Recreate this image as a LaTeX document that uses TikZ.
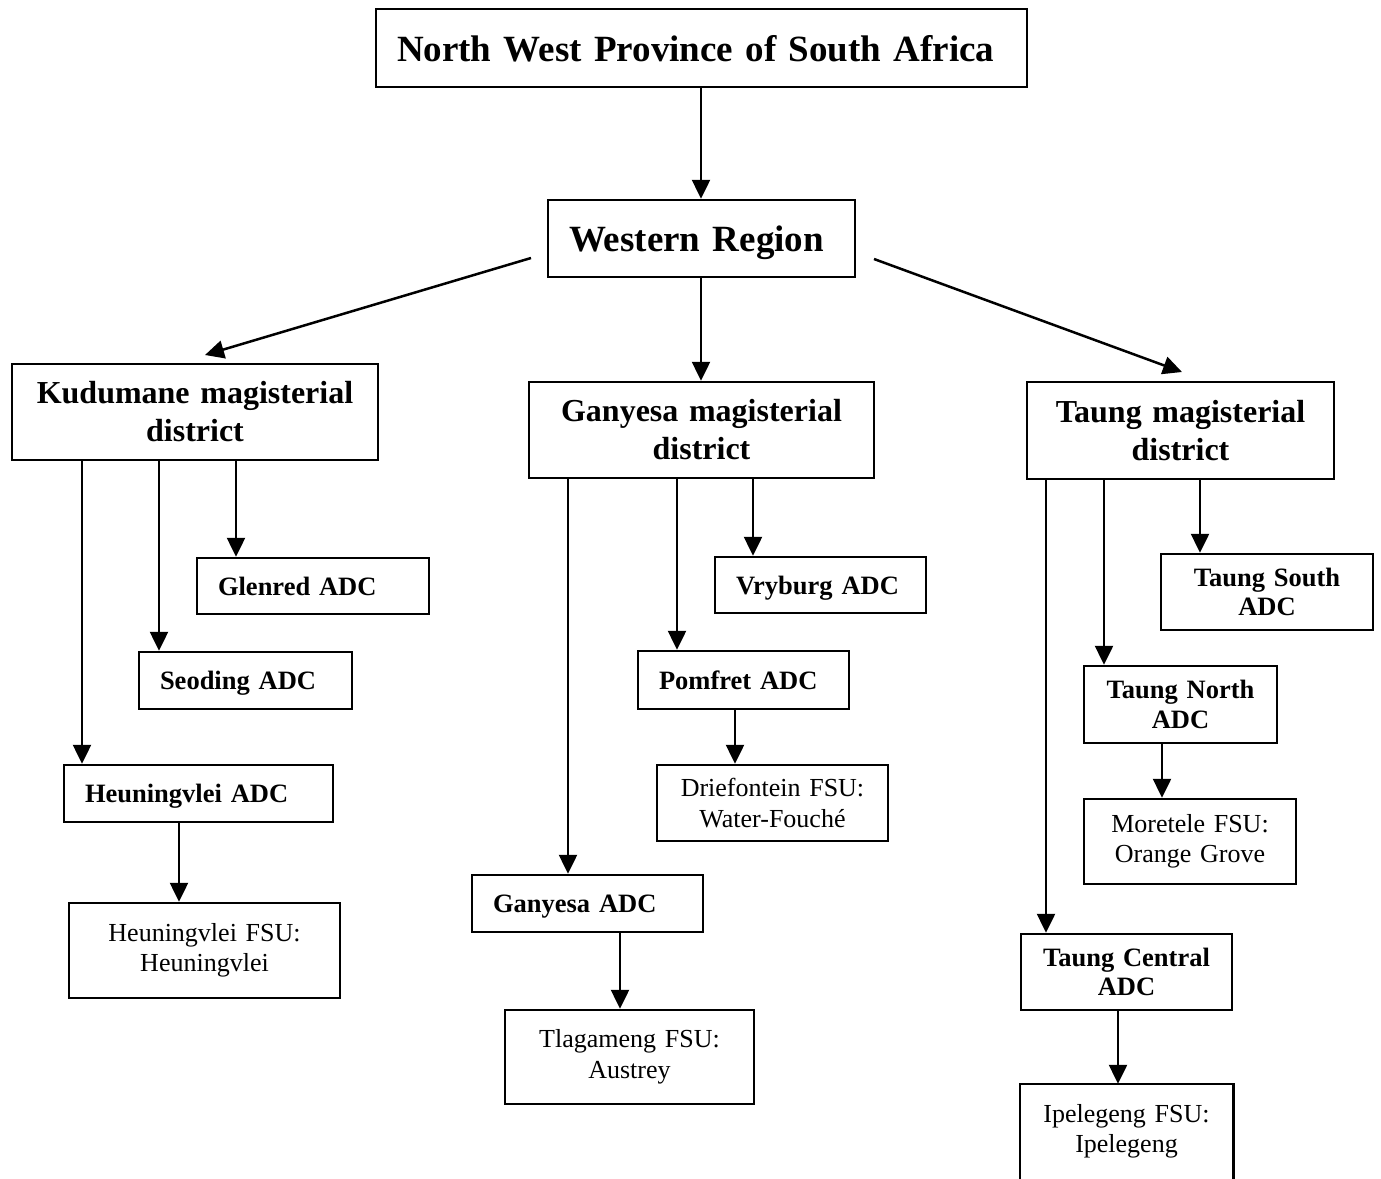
\documentclass[tikz,border=0pt]{standalone}
\usepackage{fontspec}
\setmainfont{Liberation Serif}
\usetikzlibrary{arrows.meta}
\begin{document}
\begin{tikzpicture}[x=1pt,y=-1pt,
  base/.style={draw, line width=2.5pt, inner ysep=0pt},
  lbox/.style={base, inner xsep=21pt, align=left, text depth=0pt},
  cbox/.style={base, inner xsep=5pt, align=center},
  bigf/.style={font=\fontsize{37}{42}\selectfont\bfseries},
  disf/.style={font=\fontsize{32}{38}\selectfont\bfseries},
  adcf/.style={font=\fontsize{26.5}{29.5}\selectfont\bfseries},
  fsuf/.style={font=\fontsize{26}{30.5}\selectfont},
  arr/.style={line width=2.5pt, -{Triangle[length=19pt,width=18pt]}}
]
\useasboundingbox (0,0) rectangle (1381,1178);
% nodes
\node[lbox,bigf,text width=609pt,minimum height=78pt] (title) at (701.5,48) {North West Province of South Africa};
\node[lbox,bigf,text width=265pt,minimum height=77pt] (west) at (701.5,238.5) {Western Region};
\node[cbox,disf,text width=356pt,minimum height=96pt] (kud) at (195,412) {Kudumane magisterial\\district};
\node[cbox,disf,text width=335pt,minimum height=96pt] (gan) at (701.5,430) {Ganyesa magisterial\\district};
\node[cbox,disf,text width=297pt,minimum height=97pt] (tau) at (1180.5,430.5) {Taung magisterial\\district};
\node[lbox,adcf,text width=190pt,minimum height=56pt] (glen) at (313,586) {Glenred ADC};
\node[lbox,adcf,text width=171pt,minimum height=57pt] (seod) at (245.5,680.5) {Seoding ADC};
\node[lbox,adcf,text width=227pt,minimum height=57pt] (heuA) at (198.5,793.5) {Heuningvlei ADC};
\node[cbox,fsuf,text width=261pt,minimum height=95pt] (heuF) at (204.5,950.5) {Heuningvlei FSU:\\Heuningvlei};
\node[lbox,adcf,text width=169pt,minimum height=56pt] (vry) at (820.5,585) {Vryburg ADC};
\node[lbox,adcf,text width=169pt,minimum height=58pt] (pom) at (743.5,680) {Pomfret ADC};
\node[cbox,fsuf,text width=221pt,minimum height=76pt] (drie) at (772.5,803) {Driefontein FSU:\\Water-Fouché};
\node[lbox,adcf,text width=189pt,minimum height=57pt] (ganA) at (587.5,903.5) {Ganyesa ADC};
\node[cbox,fsuf,text width=239pt,minimum height=94pt] (tlag) at (629.5,1057) {Tlagameng FSU:\\Austrey};
\node[cbox,adcf,text width=202pt,minimum height=76pt] (tauS) at (1267,592) {Taung South\\ADC};
\node[cbox,adcf,text width=183pt,minimum height=77pt] (tauN) at (1180.5,704.5) {Taung North\\ADC};
\node[cbox,fsuf,text width=202pt,minimum height=85pt] (more) at (1190,841.5) {Moretele FSU:\\Orange Grove};
\node[cbox,adcf,text width=201pt,minimum height=76pt] (tauC) at (1126.5,972) {Taung Central\\ADC};
\node[cbox,fsuf,draw=none,text width=201pt,minimum height=93pt] (ipe) at (1126.5,1131.5) {Ipelegeng FSU:\\Ipelegeng};
\draw[line width=2.5pt] ([yshift=-40pt]ipe.south west) -- (ipe.north west) -- (ipe.north east) -- ([yshift=-40pt]ipe.south east);
% coordinates for connector positions
\coordinate (wl) at (531,258);
\coordinate (kt) at (205,355);
\coordinate (wr) at (874,259);
\coordinate (tt) at (1182,372);
\coordinate (x1) at (82,0);
\coordinate (x2) at (159,0);
\coordinate (x3) at (236,0);
\coordinate (x4) at (568,0);
\coordinate (x5) at (677,0);
\coordinate (x6) at (753,0);
\coordinate (x7) at (1046,0);
\coordinate (x8) at (1104,0);
\coordinate (x9) at (1200,0);
\coordinate (x10) at (179,0);
\coordinate (x11) at (735,0);
\coordinate (x12) at (620,0);
\coordinate (x13) at (1162,0);
\coordinate (x14) at (1118,0);
\coordinate (x0) at (701,0);
% connectors
\draw[arr] (title.south -| x0) -- (west.north -| x0);
\draw[arr] (west.south -| x0) -- (gan.north -| x0);
\draw[arr] (wl) -- (kt);
\draw[arr] (wr) -- (tt);
\draw[arr] (kud.south -| x1) -- (heuA.north -| x1);
\draw[arr] (kud.south -| x2) -- (seod.north -| x2);
\draw[arr] (kud.south -| x3) -- (glen.north -| x3);
\draw[arr] (gan.south -| x4) -- (ganA.north -| x4);
\draw[arr] (gan.south -| x5) -- (pom.north -| x5);
\draw[arr] (gan.south -| x6) -- (vry.north -| x6);
\draw[arr] (tau.south -| x7) -- (tauC.north -| x7);
\draw[arr] (tau.south -| x8) -- (tauN.north -| x8);
\draw[arr] (tau.south -| x9) -- (tauS.north -| x9);
\draw[arr] (heuA.south -| x10) -- (heuF.north -| x10);
\draw[arr] (pom.south -| x11) -- (drie.north -| x11);
\draw[arr] (ganA.south -| x12) -- (tlag.north -| x12);
\draw[arr] (tauN.south -| x13) -- (more.north -| x13);
\draw[arr] (tauC.south -| x14) -- (ipe.north -| x14);
\end{tikzpicture}
\end{document}
